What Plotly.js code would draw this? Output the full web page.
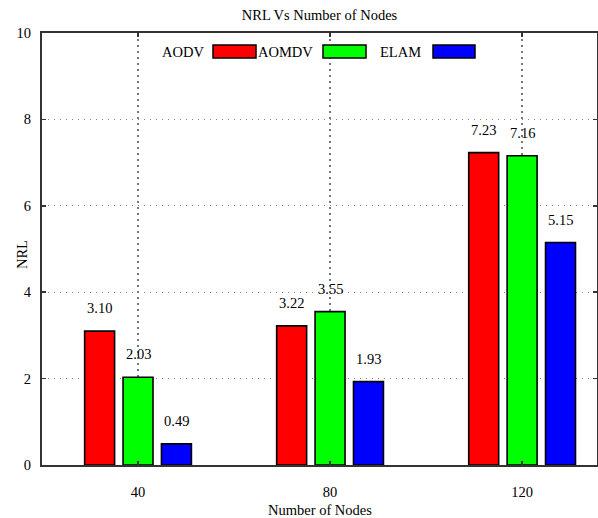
<!DOCTYPE html>
<html>
<head>
<meta charset="utf-8">
<script src="https://cdn.plot.ly/plotly-3.0.1.min.js"></script>
<style>html,body{margin:0;padding:0;background:#fff;}</style>
</head>
<body>
<div id="chart" style="width:598px;height:518px;"></div>
<script>
var nodes = ['40', '80', '120'];
var seriesNames = ['AODV', 'AOMDV', 'ELAM'];
var aodv = [3.10, 3.22, 7.23];
var aomdv = [2.03, 3.55, 7.16];
var elam = [0.49, 1.93, 5.15];
var colors = ['#ff0000', '#00ff00', '#0000ff'];
var yTicks = [0, 2, 4, 6, 8, 10];

var FONT = 'Liberation Serif, Times New Roman, serif';
var FS = 14.5;
var BARGAP = 0.4;
var values = [aodv, aomdv, elam];

var traces = values.map(function (v, i) {
  return {
    type: 'bar',
    name: seriesNames[i],
    x: nodes,
    y: v,
    marker: {color: colors[i], line: {color: '#000', width: 1.6}},
    hoverinfo: 'skip'
  };
});

var shapes = [];
var annotations = [];

// value labels above each bar, placed at the bar's group offset
var slot = (1 - BARGAP) / values.length;
values.forEach(function (v, i) {
  var off = (i - (values.length - 1) / 2) * slot;
  v.forEach(function (d, j) {
    annotations.push({xref: 'x', yref: 'y', x: j + off, y: d, yshift: 23,
      text: d.toFixed(2), showarrow: false, xanchor: 'center', yanchor: 'middle',
      font: {family: FONT, size: FS, color: '#000'}});
  });
});

// legend: label to the left of each swatch
var legendPos = [
  {tx: 0.2532, x0: 0.3081, x1: 0.3856},
  {tx: 0.4387, x0: 0.5063, x1: 0.5838},
  {tx: 0.6468, x0: 0.7045, x1: 0.7802}
];
legendPos.forEach(function (p, i) {
  annotations.push({xref: 'paper', yref: 'paper', x: p.tx, y: 0.956, text: seriesNames[i],
    showarrow: false, xanchor: 'center', yanchor: 'middle', font: {family: FONT, size: FS, color: '#000'}});
  shapes.push({type: 'rect', xref: 'paper', yref: 'paper', x0: p.x0, x1: p.x1, y0: 0.9421, y1: 0.9722,
    fillcolor: colors[i], line: {color: '#000', width: 1.5}});
});

annotations.push({xref: 'paper', yref: 'paper', x: 0.5, y: -0.1042, text: 'Number of Nodes',
  showarrow: false, xanchor: 'center', yanchor: 'middle', font: {family: FONT, size: FS, color: '#000'}});
annotations.push({xref: 'paper', yref: 'paper', x: -0.036, y: 0.486, text: 'NRL', textangle: -90,
  showarrow: false, xanchor: 'center', yanchor: 'middle', font: {family: FONT, size: FS, color: '#000'}});

var layout = {
  width: 598, height: 518,
  margin: {l: 42, r: 1, t: 33, b: 53},
  paper_bgcolor: '#fff', plot_bgcolor: '#fff',
  showlegend: false,
  barmode: 'group',
  bargap: BARGAP,
  bargroupgap: 0.22,
  font: {family: FONT, size: FS, color: '#000'},
  title: {text: 'NRL Vs Number of Nodes', x: 0.5, xref: 'paper', xanchor: 'center', y: 1 - 15 / 518, yanchor: 'middle',
    font: {family: FONT, size: FS, color: '#000'}},
  xaxis: {
    type: 'category', range: [-0.5, 2.39],
    showline: true, linecolor: '#333', linewidth: 2, mirror: 'ticks',
    ticks: 'inside', ticklen: 4, tickcolor: '#333', tickwidth: 1.5,
    showgrid: true, gridcolor: '#777', griddash: '1.5px,4.5px', gridwidth: 1.2,
    tickfont: {family: FONT, size: FS}, ticklabelstandoff: 13
  },
  yaxis: {
    range: [0, 10], tickvals: yTicks, ticktext: yTicks.map(String),
    showline: true, linecolor: '#333', linewidth: 2, mirror: 'ticks',
    ticks: 'inside', ticklen: 4, tickcolor: '#333', tickwidth: 1.5,
    showgrid: true, gridcolor: '#888', griddash: '1px,5px', gridwidth: 1,
    zeroline: false,
    tickfont: {family: FONT, size: FS}, ticklabelstandoff: 6
  },
  shapes: shapes,
  annotations: annotations
};

Plotly.newPlot('chart', traces, layout, {staticPlot: true, displayModeBar: false});
</script>
</body>
</html>
